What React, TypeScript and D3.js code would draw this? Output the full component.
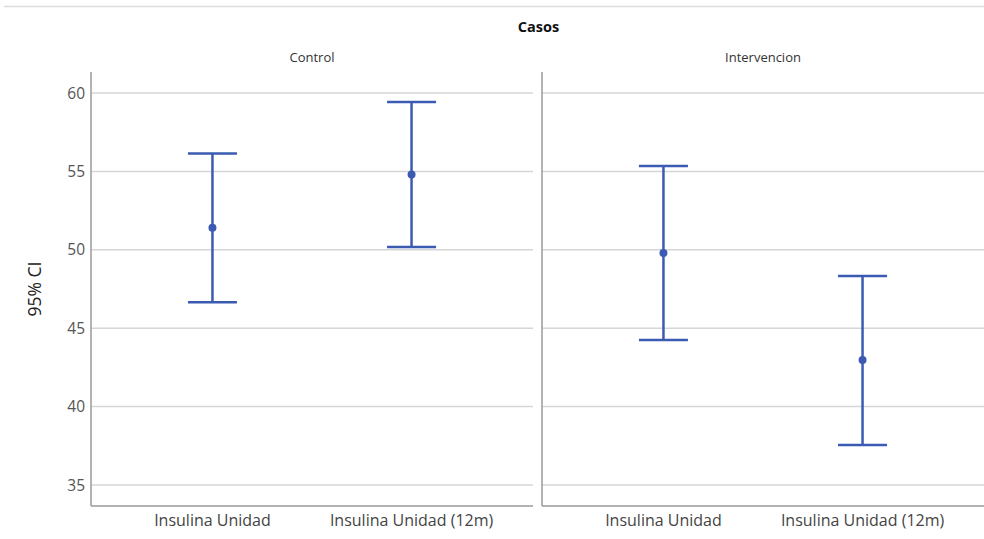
import React from "react";
import * as d3 from "d3";

const panels = ["Control", "Intervencion"];
const categories = ["Insulina Unidad", "Insulina Unidad (12m)"];
const means = [
  [51.4, 54.8],
  [49.8, 42.97],
];
const lowers = [
  [46.65, 50.18],
  [44.25, 37.55],
];
const uppers = [
  [56.15, 59.43],
  [55.34, 48.33],
];
const yTicks = [35, 40, 45, 50, 55, 60];

const W = 984;
const H = 539;
const panelX = [
  [91, 533],
  [542, 984],
];
const top = 72;
const bottom = 506;
const color = "#3b5bb3";
const font = "'Open Sans', sans-serif";

export default function App() {
  const y = d3.scaleLinear().domain([33.66, 61.34]).range([bottom, top]);
  return (
    <svg
      width={W}
      height={H}
      style={{ position: "absolute", left: 0, top: 0, background: "#fff" }}
      fontFamily={font}
    >
      <line x1={4} x2={984} y1={6.5} y2={6.5} stroke="#dcdcdc" strokeWidth={1.5} />
      <text x={538.5} y={32} textAnchor="middle" fontSize={14.5} fontWeight="bold" fill="#111">
        Casos
      </text>
      <text
        transform={`translate(41,${(top + bottom) / 2}) rotate(-90)`}
        textAnchor="middle"
        fontSize={17.5}
        fill="#222"
      >
        95% CI
      </text>
      {yTicks.map((t) => (
        <text key={t} x={85} y={y(t)} dy="0.36em" textAnchor="end" fontSize={15.5} fill="#555">
          {t}
        </text>
      ))}
      {panels.map((p, pi) => {
        const [x0, x1] = panelX[pi];
        const x = d3.scalePoint<string>().domain(categories).range([x0, x1]).padding(0.61);
        return (
          <g key={p}>
            <text x={(x0 + x1) / 2} y={62} textAnchor="middle" fontSize={13} fill="#333">
              {p}
            </text>
            {yTicks.map((t) => (
              <line key={t} x1={x0} x2={x1} y1={y(t)} y2={y(t)} stroke="#d6d6d6" strokeWidth={1.5} />
            ))}
            <line x1={x0} x2={x0} y1={top} y2={bottom} stroke="#9a9a9a" strokeWidth={1.5} />
            <line x1={x0} x2={x1} y1={bottom} y2={bottom} stroke="#9a9a9a" strokeWidth={1.5} />
            {categories.map((c, ci) => {
              const cx = x(c)!;
              return (
                <g key={c}>
                  <text x={cx} y={526} textAnchor="middle" fontSize={16} fill="#444">
                    {c}
                  </text>
                  <line x1={cx} x2={cx} y1={y(uppers[pi][ci])} y2={y(lowers[pi][ci])} stroke={color} strokeWidth={2.5} />
                  <line x1={cx - 24.5} x2={cx + 24.5} y1={y(uppers[pi][ci])} y2={y(uppers[pi][ci])} stroke={color} strokeWidth={2.5} />
                  <line x1={cx - 24.5} x2={cx + 24.5} y1={y(lowers[pi][ci])} y2={y(lowers[pi][ci])} stroke={color} strokeWidth={2.5} />
                  <circle cx={cx} cy={y(means[pi][ci])} r={4} fill={color} />
                </g>
              );
            })}
          </g>
        );
      })}
    </svg>
  );
}
